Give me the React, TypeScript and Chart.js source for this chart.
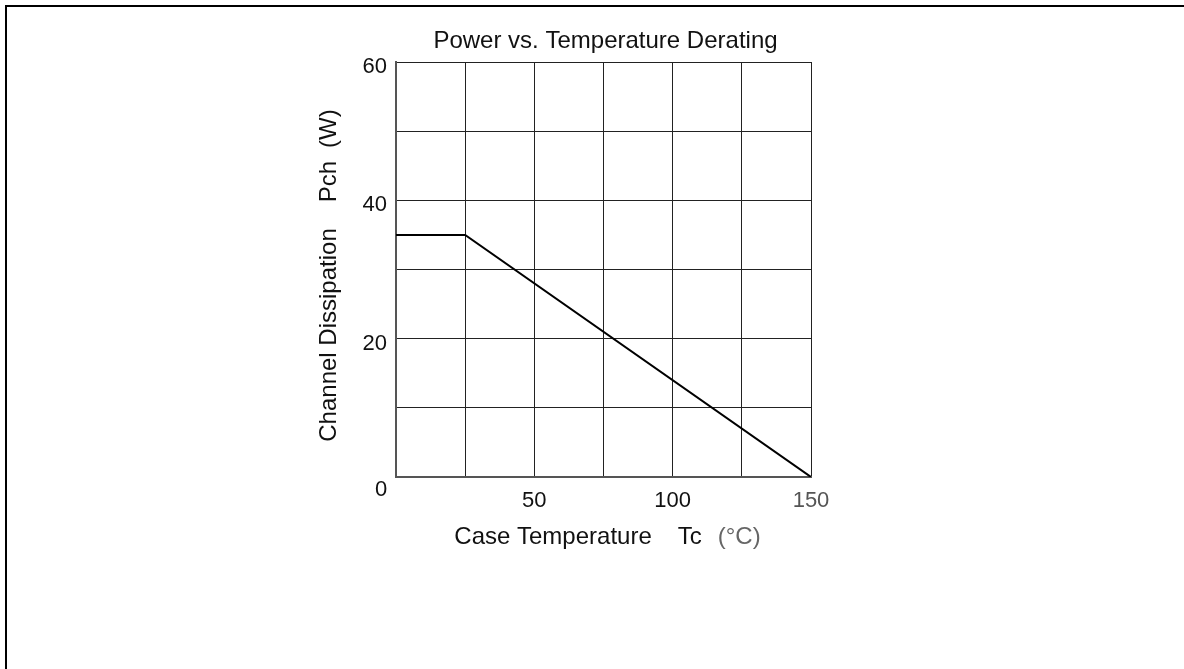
import React, { useEffect, useRef } from "react";
import { Chart, registerables } from "chart.js";

Chart.register(...registerables);

const caseTempC = [0, 25, 150];
const channelPowerW = [35, 35, 0];
const xLabeled = [50, 100, 150];
const yLabeled = [20, 40, 60];
const chartTitle = "Power vs. Temperature Derating";
const xTitleParts = ["Case Temperature", "Tc", "(°C)"];
const yTitleParts = ["Channel Dissipation", "Pch", "(W)"];

const FONT = "'Liberation Sans', Arial, Helvetica, sans-serif";

const textPlugin = {
  id: "textPlugin",
  afterDraw(chart: any) {
    const { ctx, chartArea, scales } = chart;
    const cx = (chartArea.left + chartArea.right) / 2;
    ctx.save();
    // title
    ctx.fillStyle = "#111";
    ctx.font = `24px ${FONT}`;
    ctx.textAlign = "center";
    ctx.textBaseline = "alphabetic";
    ctx.fillText(chartTitle, cx + 2, chartArea.top - 14);
    // zero corner label
    ctx.font = `22px ${FONT}`;
    ctx.textAlign = "center";
    ctx.textBaseline = "middle";
    ctx.fillText("0", scales.x.getPixelForValue(0) - 15, scales.y.getPixelForValue(0) + 13);
    // x title
    ctx.font = `24px ${FONT}`;
    ctx.textAlign = "left";
    ctx.textBaseline = "middle";
    const gapsX = [26, 16];
    const colorsX = ["#111", "#111", "#666"];
    const widthsX = xTitleParts.map((p) => ctx.measureText(p).width);
    const totalX = widthsX.reduce((a, b) => a + b, 0) + gapsX[0] + gapsX[1];
    let x = cx + 4 - totalX / 2;
    const xy = chartArea.bottom + 60;
    xTitleParts.forEach((p, i) => {
      ctx.fillStyle = colorsX[i];
      ctx.fillText(p, x, xy);
      x += widthsX[i] + (gapsX[i] || 0);
    });
    // y title
    const gapsY = [26, 13];
    const widthsY = yTitleParts.map((p) => ctx.measureText(p).width);
    const totalY = widthsY.reduce((a, b) => a + b, 0) + gapsY[0] + gapsY[1];
    ctx.translate(chartArea.left - 67, (chartArea.top + chartArea.bottom) / 2 + 6);
    ctx.rotate(-Math.PI / 2);
    let y = -totalY / 2;
    ctx.fillStyle = "#111";
    yTitleParts.forEach((p, i) => {
      ctx.fillText(p, y, 0);
      y += widthsY[i] + (gapsY[i] || 0);
    });
    ctx.restore();
  },
};

export default function App() {
  const ref = useRef<HTMLCanvasElement>(null);
  useEffect(() => {
    if (!ref.current) return;
    const chart = new Chart(ref.current, {
      type: "scatter",
      data: {
        datasets: [
          {
            data: caseTempC.map((t, i) => ({ x: t, y: channelPowerW[i] })),
            showLine: true,
            borderColor: "#000",
            borderWidth: 2,
            pointRadius: 0,
            fill: false,
          },
        ],
      },
      options: {
        animation: false,
        responsive: false,
        maintainAspectRatio: false,
        layout: { padding: { left: 336, right: 373, top: 62, bottom: 132 } },
        plugins: { legend: { display: false }, tooltip: { enabled: false }, title: { display: false } },
        scales: {
          x: {
            type: "linear",
            min: 0,
            max: 150,
            afterFit: (s: any) => {
              s.height = 60;
            },
            grid: { color: "#222", lineWidth: 1, tickLength: 0, drawTicks: false },
            border: { color: "#555", width: 2 },
            ticks: {
              stepSize: 25,
              padding: 11,
              autoSkip: false,
              maxRotation: 0,
              font: { family: FONT, size: 22 },
              color: (c: any) => (c.tick && c.tick.value === 150 ? "#555" : "#111"),
              callback: (v: any) => (xLabeled.includes(Number(v)) ? String(v) : ""),
            },
          },
          y: {
            type: "linear",
            min: 0,
            max: 60,
            afterFit: (s: any) => {
              s.width = 60;
            },
            grid: { color: "#222", lineWidth: 1, tickLength: 0, drawTicks: false },
            border: { color: "#555", width: 2 },
            ticks: {
              stepSize: 10,
              padding: 9,
              labelOffset: 5,
              autoSkip: false,
              font: { family: FONT, size: 22 },
              color: "#111",
              callback: (v: any) => (yLabeled.includes(Number(v)) ? String(v) : ""),
            },
          },
        },
      },
      plugins: [textPlugin],
    });
    return () => chart.destroy();
  }, []);
  return (
    <div style={{ position: "fixed", left: 0, top: 0, width: 1184, height: 669, overflow: "hidden", background: "#fff" }}>
      <div
        style={{
          position: "absolute",
          left: 5,
          top: 5,
          width: 1400,
          height: 900,
          border: "2px solid #000",
          boxSizing: "border-box",
        }}
      />
      <canvas ref={ref} width={1184} height={669} style={{ position: "absolute", left: 0, top: 0 }} />
    </div>
  );
}
